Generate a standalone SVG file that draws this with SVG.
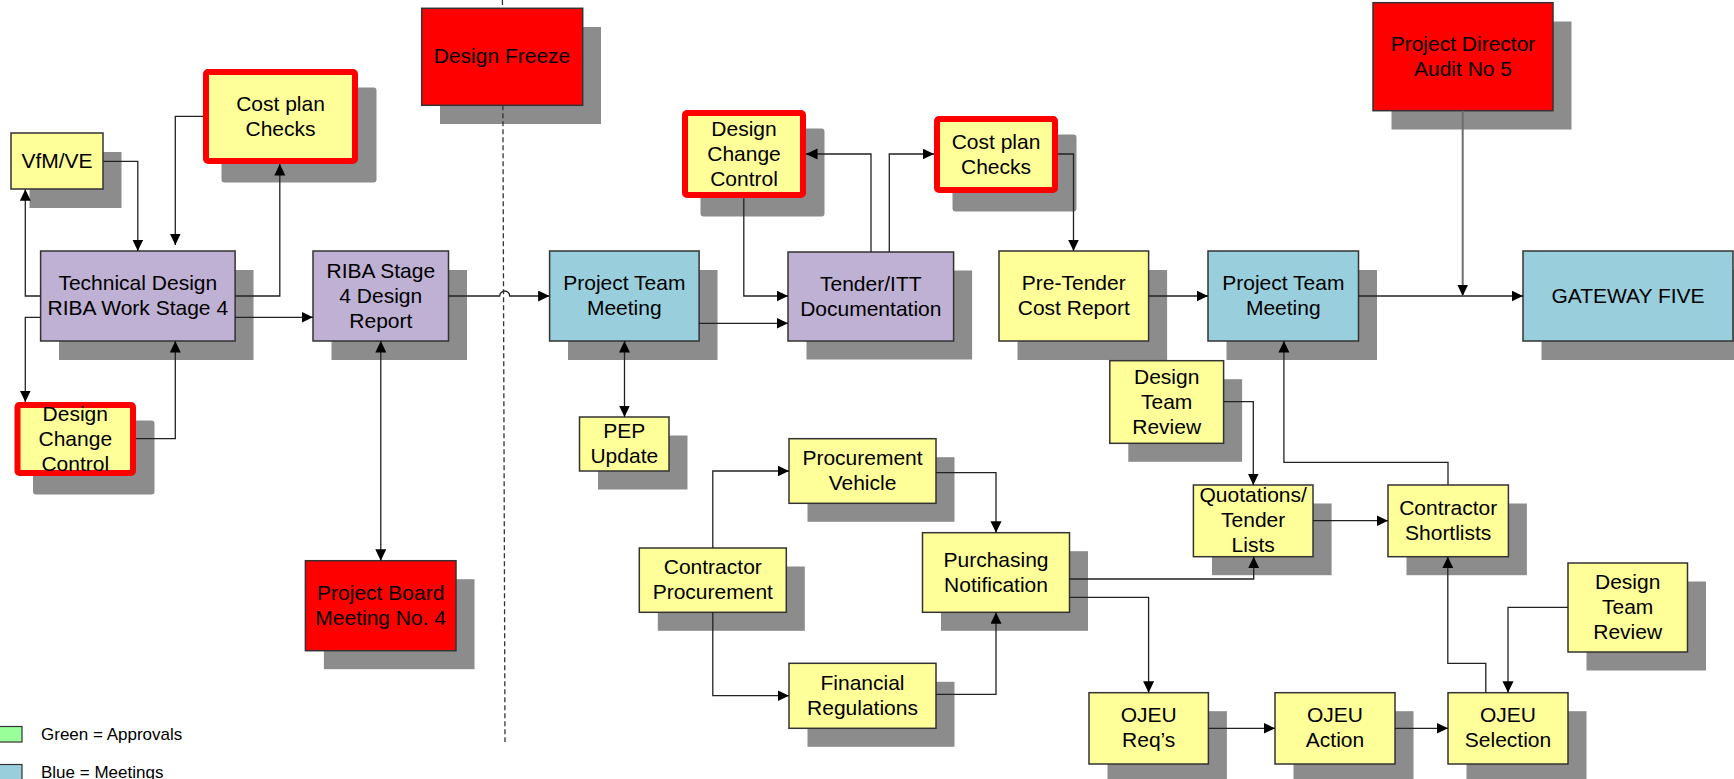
<svg xmlns="http://www.w3.org/2000/svg" width="1734" height="779" viewBox="0 0 1734 779">
<style>
.sh{fill:#8c8c8c}
.y{fill:#ffff99;stroke:#333;stroke-width:1.5}
.p{fill:#bfb1d3;stroke:#333;stroke-width:1.5}
.b{fill:#99cfdc;stroke:#333;stroke-width:1.5}
.r{fill:#ff0000;stroke:#333;stroke-width:1.5}
.yr{fill:#ffff99;stroke:#ff0000;stroke-width:6}
text{font-family:"Liberation Sans",Arial,sans-serif;font-size:21px;fill:#000;text-anchor:middle}
.lg{font-size:17px;text-anchor:start}
.c{fill:none;stroke:#222;stroke-width:1.3;marker-end:url(#ah)}
.c2{marker-start:url(#ah)}
.sep{fill:none;stroke:#333;stroke-width:1.3;stroke-dasharray:5 3}
</style>
<defs>
<marker id="ah" markerUnits="userSpaceOnUse" markerWidth="13" markerHeight="12" refX="11.5" refY="5.5" orient="auto-start-reverse">
<path d="M0,0 L11.5,5.5 L0,11 z" fill="#000"/>
</marker>
</defs>
<rect width="1734" height="779" fill="#fff"/>

<g id="nodes">
<g id="n-vfm"><rect class="sh" x="29.5" y="152" width="92" height="56"/><rect class="y" x="11" y="133" width="92" height="56"/><text x="57" y="167.8">VfM/VE</text></g>
<g id="n-cpc1"><rect class="sh" x="221.5" y="87.5" width="155" height="95" rx="3"/><rect class="yr" x="206" y="72" width="149" height="89" rx="2"/><text x="280.5" y="110.5">Cost plan</text><text x="280.5" y="135.5">Checks</text></g>
<g id="n-td"><rect class="sh" x="59" y="270" width="194.5" height="90"/><rect class="p" x="40.6" y="251" width="194.5" height="90"/><text x="137.8" y="290">Technical Design</text><text x="137.8" y="315">RIBA Work Stage 4</text></g>
<g id="n-riba"><rect class="sh" x="331.5" y="270" width="135.5" height="90"/><rect class="p" x="313" y="251" width="135.5" height="90"/><text x="380.8" y="277.5">RIBA Stage</text><text x="380.8" y="302.5">4 Design</text><text x="380.8" y="327.5">Report</text></g>
<g id="n-dcc1"><rect class="sh" x="33" y="420.5" width="121.5" height="74" rx="3"/><rect class="yr" x="17.5" y="405" width="115.5" height="68" rx="2"/><text x="75.3" y="420.5">Design</text><text x="75.3" y="445.5">Change</text><text x="75.3" y="470.5">Control</text></g>
<g id="n-freeze"><rect class="sh" x="440" y="27" width="161" height="97"/><rect class="r" x="421.7" y="8.3" width="161" height="97"/><text x="502" y="63.2">Design Freeze</text></g>
<g id="n-ptm1"><rect class="sh" x="568" y="270" width="149.5" height="90"/><rect class="b" x="549.6" y="251" width="149.5" height="90"/><text x="624.3" y="290">Project Team</text><text x="624.3" y="315">Meeting</text></g>
<g id="n-pep"><rect class="sh" x="598" y="435.5" width="89.5" height="54"/><rect class="y" x="579.5" y="417" width="89.5" height="54"/><text x="624.3" y="438">PEP</text><text x="624.3" y="463">Update</text></g>
<g id="n-dcc2"><rect class="sh" x="700.5" y="128.5" width="124" height="88" rx="3"/><rect class="yr" x="685" y="113" width="118" height="82" rx="2"/><text x="744" y="135.5">Design</text><text x="744" y="160.5">Change</text><text x="744" y="185.5">Control</text></g>
<g id="n-tender"><rect class="sh" x="806.5" y="270.5" width="165.6" height="89"/><rect class="p" x="788" y="252" width="165.6" height="89"/><text x="870.8" y="290.5">Tender/ITT</text><text x="870.8" y="315.5">Documentation</text></g>
<g id="n-cpc2"><rect class="sh" x="952.5" y="134.5" width="124" height="77" rx="3"/><rect class="yr" x="937" y="119" width="118" height="71" rx="2"/><text x="996" y="148.5">Cost plan</text><text x="996" y="173.5">Checks</text></g>
<g id="n-pretender"><rect class="sh" x="1017.5" y="270" width="149.6" height="90"/><rect class="y" x="999" y="251" width="149.6" height="90"/><text x="1073.8" y="290">Pre-Tender</text><text x="1073.8" y="315">Cost Report</text></g>
<g id="n-ptm2"><rect class="sh" x="1226.5" y="270" width="150.5" height="90"/><rect class="b" x="1208" y="251" width="150.5" height="90"/><text x="1283.3" y="290">Project Team</text><text x="1283.3" y="315">Meeting</text></g>
<g id="n-gateway"><rect class="sh" x="1541.5" y="270" width="210" height="90"/><rect class="b" x="1523" y="251" width="210" height="90"/><text x="1628" y="302.5">GATEWAY FIVE</text></g>
<g id="n-pda"><rect class="sh" x="1391.5" y="21.5" width="180" height="108"/><rect class="r" x="1373" y="2.7" width="180" height="108"/><text x="1463" y="50.7">Project Director</text><text x="1463" y="75.7">Audit No 5</text></g>
<g id="n-dtr1"><rect class="sh" x="1128.3" y="379.2" width="113.8" height="82.6"/><rect class="y" x="1109.8" y="360.7" width="113.8" height="82.6"/><text x="1166.7" y="383.5">Design</text><text x="1166.7" y="408.5">Team</text><text x="1166.7" y="433.5">Review</text></g>
<g id="n-quot"><rect class="sh" x="1212" y="503.5" width="119.6" height="71.7"/><rect class="y" x="1193.4" y="485" width="119.6" height="71.7"/><text x="1253.2" y="502">Quotations/</text><text x="1253.2" y="527">Tender</text><text x="1253.2" y="552">Lists</text></g>
<g id="n-cshort"><rect class="sh" x="1406.5" y="503.5" width="120.4" height="71.7"/><rect class="y" x="1388" y="485" width="120.4" height="71.7"/><text x="1448.2" y="514.8">Contractor</text><text x="1448.2" y="539.8">Shortlists</text></g>
<g id="n-dtr2"><rect class="sh" x="1586.5" y="581.5" width="119.5" height="89"/><rect class="y" x="1568" y="563" width="119.5" height="89"/><text x="1627.7" y="589">Design</text><text x="1627.7" y="614">Team</text><text x="1627.7" y="639">Review</text></g>
<g id="n-ojeureq"><rect class="sh" x="1107.5" y="711.2" width="119.4" height="71.3"/><rect class="y" x="1089" y="692.7" width="119.4" height="71.3"/><text x="1148.7" y="722">OJEU</text><text x="1148.7" y="747">Req’s</text></g>
<g id="n-ojeuact"><rect class="sh" x="1293.5" y="711.2" width="120" height="71.3"/><rect class="y" x="1275" y="692.7" width="120" height="71.3"/><text x="1335" y="722">OJEU</text><text x="1335" y="747">Action</text></g>
<g id="n-ojeusel"><rect class="sh" x="1466.5" y="711.2" width="120" height="71.3"/><rect class="y" x="1448" y="692.7" width="120" height="71.3"/><text x="1508" y="722">OJEU</text><text x="1508" y="747">Selection</text></g>
<g id="n-cproc"><rect class="sh" x="657.8" y="566.5" width="147" height="64.3"/><rect class="y" x="639.3" y="548" width="147" height="64.3"/><text x="712.8" y="574.2">Contractor</text><text x="712.8" y="599.2">Procurement</text></g>
<g id="n-pveh"><rect class="sh" x="807.5" y="457.2" width="147" height="64.6"/><rect class="y" x="789" y="438.7" width="147" height="64.6"/><text x="862.5" y="465">Procurement</text><text x="862.5" y="490">Vehicle</text></g>
<g id="n-purch"><rect class="sh" x="941" y="551.2" width="147" height="79.6"/><rect class="y" x="922.5" y="532.7" width="147" height="79.6"/><text x="996" y="566.5">Purchasing</text><text x="996" y="591.5">Notification</text></g>
<g id="n-finreg"><rect class="sh" x="807.5" y="681.8" width="147" height="65"/><rect class="y" x="789" y="663.3" width="147" height="65"/><text x="862.5" y="689.8">Financial</text><text x="862.5" y="714.8">Regulations</text></g>
<g id="n-pboard"><rect class="sh" x="323.9" y="579.2" width="150.6" height="90"/><rect class="r" x="305.4" y="560.7" width="150.6" height="90"/><text x="380.7" y="600">Project Board</text><text x="380.7" y="625">Meeting No. 4</text></g>
</g>

<g id="separator">
<line class="sep" x1="502.4" y1="0" x2="502.5" y2="8.3"/>
<line class="sep" x1="502.9" y1="105.3" x2="505" y2="742"/>
</g>

<g id="connectors">
<path class="c" d="M40.6,296 H25.3 V189.3"/>
<path class="c" d="M103.3,161.3 H137.8 V251"/>
<path class="c" d="M203,116.3 H175.3 V245"/>
<path class="c" d="M235,296 H279.8 V164"/>
<path class="c" d="M40.6,317.3 H25.3 V402"/>
<path class="c" d="M136,438.7 H175.3 V341"/>
<path class="c" d="M235,317.3 H313"/>
<path class="c" d="M448.5,296 H499.7 A5,5 0 0 1 509.7,296 H549.6"/>
<path class="c c2" d="M380.8,341 V560.7"/>
<path class="c c2" d="M624.5,341 V417"/>
<path class="c" d="M699,323.3 H788"/>
<path class="c" d="M743.8,198 V296 H788"/>
<path class="c" d="M871,252 V154 H806"/>
<path class="c" d="M889.3,252 V154 H934"/>
<path class="c" d="M1058,154 H1073.5 V251"/>
<path class="c" d="M1148.6,296 H1208"/>
<path class="c" d="M1358.5,296 H1523"/>
<path class="c" style="stroke:#6e6e6e;stroke-width:2" d="M1462.7,110.7 V296"/>
<path class="c" d="M1223.6,401.7 H1253.3 V485"/>
<path class="c" d="M1448,485 V462.3 H1283.9 V341"/>
<path class="c" d="M1313,520.7 H1388"/>
<path class="c" d="M1069.5,579 H1253.7 V556.7"/>
<path class="c" d="M1069.5,597.3 H1148.6 V692.7"/>
<path class="c" d="M1208.4,728.3 H1275"/>
<path class="c" d="M1395,728.3 H1448"/>
<path class="c" d="M1485.8,692.7 V663.3 H1447.8 V556.7"/>
<path class="c" d="M1568,607.3 H1508 V692.7"/>
<path class="c" d="M712.8,548 V471 H789"/>
<path class="c" d="M712.8,612.3 V695.7 H789"/>
<path class="c" d="M936,472.7 H996 V532.7"/>
<path class="c" d="M936,694.3 H996 V612.3"/>
</g>

<g id="legend">
<rect x="-1" y="726.5" width="23" height="15.5" fill="#99ff99" stroke="#333" stroke-width="1.2"/>
<text class="lg" x="41" y="739.5">Green = Approvals</text>
<rect x="-1" y="764.5" width="23" height="20" fill="#99cfdc" stroke="#333" stroke-width="1.2"/>
<text class="lg" x="41" y="778">Blue = Meetings</text>
</g>
</svg>
